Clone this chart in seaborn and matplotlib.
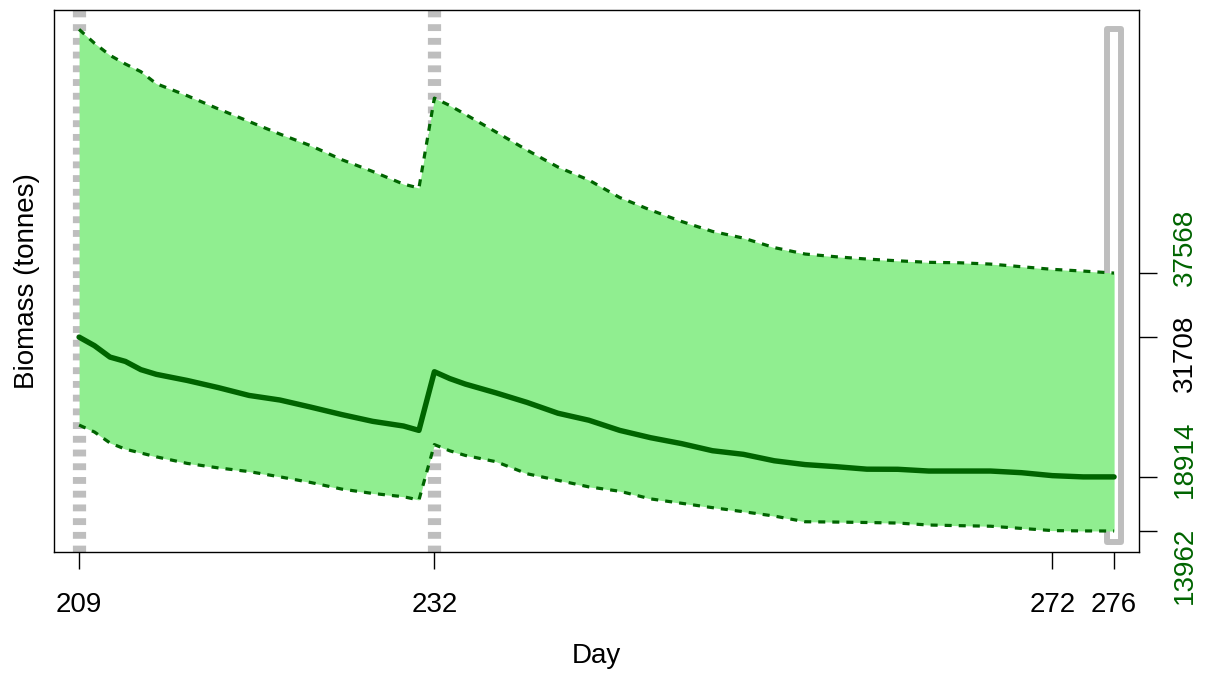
import numpy as np
import pandas as pd
import matplotlib
matplotlib.use("Agg")
import matplotlib.pyplot as plt
import seaborn as sns
from matplotlib.patches import FancyBboxPatch

# datos
days = [209, 210, 211, 212, 213, 214, 216, 218, 220, 222, 224, 226, 228, 230, 231,
        232, 233, 234, 236, 238, 240, 242, 244, 246, 248, 250, 252, 254, 256, 258,
        260, 262, 264, 266, 268, 270, 272, 274, 276]
upper = [59870, 58600, 57500, 56700, 56000, 54900, 53800, 52600, 51440, 50290, 49220,
         47950, 46870, 45710, 45350,
         53580, 52900, 52100, 50470, 48820, 47270, 46080, 44480, 43330, 42290, 41380,
         40770, 39900, 39310, 39060, 38850, 38690, 38550, 38510, 38390, 38150, 37910,
         37750, 37568]
mean = [31708, 30920, 29880, 29480, 28730, 28300, 27740, 27090, 26370, 25950, 25300,
        24620, 24000, 23570, 23170,
        28540, 27910, 27410, 26600, 25730, 24740, 24100, 23170, 22500, 21960, 21310,
        20980, 20390, 20040, 19850, 19620, 19610, 19450, 19450, 19450, 19300, 19030,
        18914, 18914]
lower = [23660, 23020, 22020, 21450, 21100, 20750, 20150, 19740, 19400, 18920, 18400,
         17800, 17400, 17100, 16800,
         21870, 21300, 20880, 20300, 19200, 18600, 18000, 17600, 16900, 16500, 16100,
         15730, 15330, 14810, 14780, 14740, 14690, 14510, 14450, 14400, 14200, 14000,
         13970, 13962]
event_days = [209, 232]
xtick_days = [209, 232, 272, 276]
ytick_vals = [13962, 18914, 31708, 37568]
ytick_cols = ["darkgreen", "darkgreen", "black", "darkgreen"]

df = pd.DataFrame({"day": days, "upper": upper, "mean": mean, "lower": lower})

sns.set_theme(style="white")
plt.rcParams["font.family"] = ["Liberation Sans", "DejaVu Sans"]
plt.rcParams["text.color"] = "black"
plt.rcParams["axes.labelcolor"] = "black"
plt.rcParams["xtick.color"] = "black"
plt.rcParams["ytick.color"] = "black"

fig = plt.figure(figsize=(12.09, 6.74), dpi=100)
ax = fig.add_axes([0.0447, 0.181, 0.8975, 0.804])

# lineas de eventos (debajo de la banda)
for d in event_days:
    ax.axvline(d, color="#BEBEBE", lw=9.5, linestyle=(0, (0.52, 0.52)), zorder=1)

# rectangulo ultimo dia
rlo = min(lower) * 0.928
rhi = max(upper) * 1.0
rect = FancyBboxPatch((days[-1] - 0.43, rlo), 0.86, rhi - rlo,
                      boxstyle="square,pad=0", fill=False, ec="#BEBEBE", lw=4.3,
                      joinstyle="round", zorder=1)
ax.add_patch(rect)

# banda
ax.fill_between(df["day"], df["lower"], df["upper"], color="#90EE90", lw=0, zorder=2)
sns.lineplot(data=df, x="day", y="upper", color="darkgreen", lw=2.3,
             linestyle=(0, (2.2, 2.2)), ax=ax, zorder=3)
sns.lineplot(data=df, x="day", y="lower", color="darkgreen", lw=2.3,
             linestyle=(0, (2.2, 2.2)), ax=ax, zorder=3)
sns.lineplot(data=df, x="day", y="mean", color="darkgreen", lw=3.9, ax=ax, zorder=4)

ax.set_xlim(207.38, 277.62)
ax.set_ylim(12040, 61634)

ax.set_xticks(xtick_days)
ax.set_xticklabels([str(d) for d in xtick_days])
ax.tick_params(axis="x", direction="out", length=12, width=1, pad=17,
               labelsize=20, bottom=True)

# eje derecho: marcas en los valores, etiquetas repartidas
ax.yaxis.tick_right()
ax.set_yticks(ytick_vals)
ax.tick_params(axis="y", direction="out", length=13, width=1,
               right=True, left=False, labelright=False, labelleft=False)
lab_pos = np.linspace(-0.024, 0.562, len(ytick_vals))
for v, c, p in zip(ytick_vals, ytick_cols, lab_pos):
    ax.text(1.0424, p, str(v), transform=ax.transAxes, rotation=90,
            ha="center", va="center", fontsize=20, color=c, clip_on=False)

for s in ax.spines.values():
    s.set_color("black")
    s.set_linewidth(1.0)

ax.set_xlabel("Day", fontsize=20, labelpad=18)
ax.set_ylabel("Biomass (tonnes)", fontsize=20, labelpad=10)
ax.yaxis.set_label_position("left")

plt.savefig("out.png", dpi=100)
